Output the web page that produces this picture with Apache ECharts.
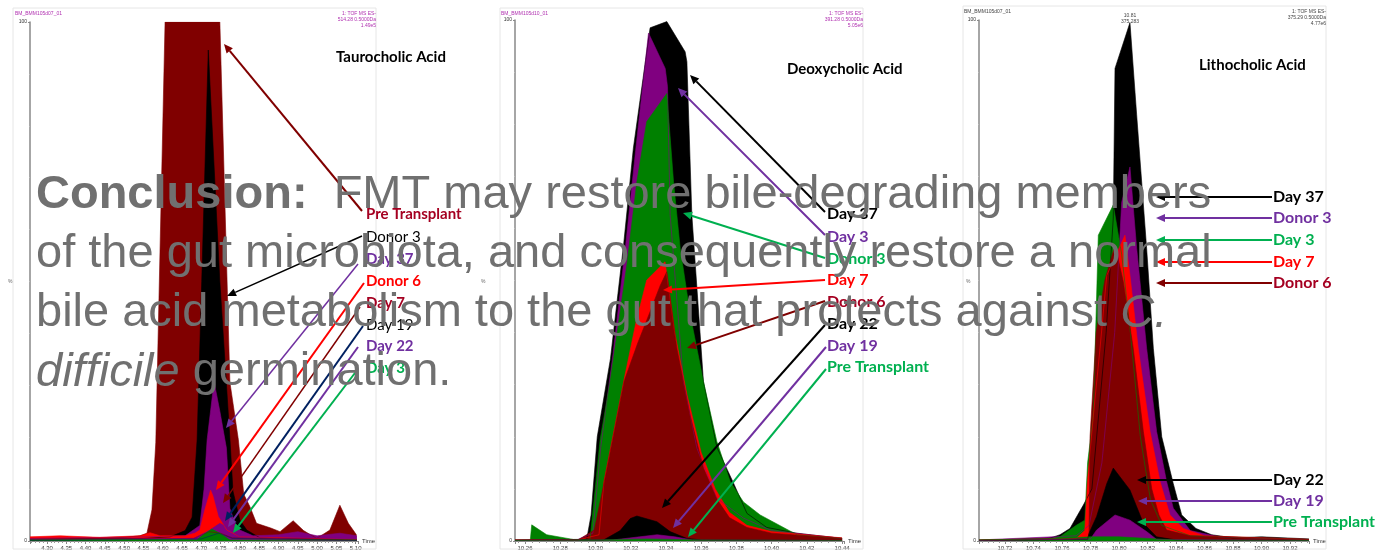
<!DOCTYPE html>
<html>
<head>
<meta charset="utf-8">
<script src="https://cdn.jsdelivr.net/npm/echarts@6/dist/echarts.min.js"></script>
<style>
  html, body { margin: 0; padding: 0; background: #fff; }
  #chart { width: 1383px; height: 551px; }
</style>
</head>
<body>
<div id="chart"></div>
<script>
// ---- Taurocholic acid (retention time, % intensity) ----
const taurPreTransplant = [[4.256,0.4],[4.400,0.5],[4.500,0.7],[4.541,1.0],[4.559,1.5],[4.572,6],[4.582,19],[4.606,100],[4.748,100],[4.774,30.6],[4.796,19.5],[4.810,9],[4.826,6.6],[4.843,3.4],[4.880,2.5],[4.904,1.8],[4.938,3.9],[4.965,2.0],[4.999,0.5],[5.033,2.1],[5.059,6.9],[5.081,3.4],[5.102,1.2]]
const taurDonor3 = [[4.256,0.3],[4.550,0.5],[4.619,0.8],[4.658,2],[4.676,4.6],[4.689,19.5],[4.701,50],[4.718,94.6],[4.748,50],[4.774,19.8],[4.782,9.6],[4.800,4],[4.818,2.1],[4.852,0.6],[5.103,0.2]]
const taurDay37 = [[4.256,0.5],[4.550,0.8],[4.658,1],[4.696,3],[4.707,10],[4.715,19.5],[4.733,30.7],[4.748,25],[4.765,17.9],[4.774,6.3],[4.787,3.5],[4.800,2.1],[4.834,1],[4.900,1.2],[4.950,1.8],[5.000,1.0],[5.059,1.5],[5.103,1]]
const taurDonor6 = [[4.256,0.8],[4.334,1.0],[4.437,0.7],[4.541,1.0],[4.567,1.6],[4.593,1.0],[4.658,1.0],[4.683,1.5],[4.696,2.1],[4.709,6],[4.724,9.8],[4.730,8.7],[4.744,4.7],[4.766,2.1],[4.800,0.8],[5.103,0.3]]
const taurDay7 = [[4.256,0.2],[4.680,0.5],[4.720,1.8],[4.750,1.5],[4.780,0.6],[5.103,0.2]]
const taurDay19 = [[4.256,0.1],[4.700,0.4],[4.745,1.5],[4.780,0.5],[5.103,0.1]]
const taurDay22 = [[4.256,0.3],[4.680,0.5],[4.720,2],[4.748,3.4],[4.766,2.7],[4.800,0.8],[4.900,0.5],[5.000,0.6],[5.103,0.4]]
const taurDay3 = [[4.256,0.2],[4.650,0.3],[4.688,0.2],[4.705,1.2],[4.727,2.3],[4.748,1.5],[4.774,0.2],[5.103,0.2]]

// ---- Deoxycholic acid ----
const deoxDay37 = [[10.2543,0.2],[10.2950,0.3],[10.2960,0.5],[10.2975,5],[10.3010,20],[10.3085,35],[10.3160,57],[10.3215,75.4],[10.3310,98.5],[10.3405,99.7],[10.3509,93.9],[10.3519,92],[10.3547,62.6],[10.3613,30.6],[10.3689,18],[10.3784,11.1],[10.3860,5.3],[10.3973,2.6],[10.4144,1.5],[10.4400,0.5]]
const deoxDay3 = [[10.2543,0.2],[10.2900,0.3],[10.2985,1.5],[10.3030,18],[10.3100,36],[10.3172,57],[10.3228,75],[10.3301,97.5],[10.3396,90.7],[10.3409,87.2],[10.3424,62.6],[10.3499,30.6],[10.3576,17.8],[10.3689,8.2],[10.3840,4.4],[10.4000,2],[10.4400,0.5]]
const deoxDonor3 = [[10.2543,0.2],[10.2630,0.2],[10.2638,3.1],[10.2723,1.2],[10.2874,0.3],[10.2969,0.3],[10.2998,9.8],[10.3026,19.4],[10.3083,30.6],[10.3178,53],[10.3235,69],[10.3291,80.5],[10.3405,85.9],[10.3443,69],[10.3481,56.2],[10.3538,43.4],[10.3613,30.6],[10.3689,19.1],[10.3765,11.4],[10.3840,7.5],[10.3935,5],[10.4144,1.2],[10.4400,0.5]]
const deoxDay7 = [[10.2543,0.2],[10.2900,0.2],[10.3020,1.2],[10.3048,11.4],[10.3160,30.6],[10.3230,42],[10.3291,50.1],[10.3395,53.6],[10.3450,40],[10.3520,28],[10.3600,17],[10.3680,10],[10.3760,5.5],[10.3860,3],[10.4000,1.8],[10.4400,0.6]]
const deoxDonor6 = [[10.2543,0.2],[10.2900,0.2],[10.2993,2.1],[10.3050,11.4],[10.3162,30.6],[10.3240,38],[10.3310,44],[10.3367,49],[10.3405,51.7],[10.3462,37],[10.3538,24],[10.3613,14],[10.3690,8],[10.3760,4.5],[10.3860,2.6],[10.4000,1.5],[10.4400,0.5]]
const deoxDay22 = [[10.2543,0.1],[10.2950,0.2],[10.3046,0.2],[10.3140,2],[10.3197,4.3],[10.3235,4.8],[10.3349,3.7],[10.3424,1.8],[10.3519,0.5],[10.3600,0.2],[10.4400,0.1]]
const deoxDay19 = [[10.2543,0.1],[10.3100,0.2],[10.3250,0.8],[10.3350,1.2],[10.3450,0.8],[10.3550,0.2],[10.4400,0.1]]
const deoxPreTransplant = [[10.2543,0.1],[10.3000,0.2],[10.3300,0.4],[10.3600,0.2],[10.4400,0.1]]

// ---- Lithocholic acid ----
const lithDay37 = [[10.7018,0.2],[10.7500,0.4],[10.7586,1.2],[10.7656,2.4],[10.7750,6.9],[10.7810,10],[10.7910,40],[10.7960,62],[10.7972,90.7],[10.8077,99.5],[10.8124,81.8],[10.8194,56.2],[10.8241,37],[10.8300,20],[10.8381,11],[10.8440,5],[10.8540,2.4],[10.8650,1.2],[10.8800,0.6],[10.9000,0.8],[10.9333,0.4]]
const lithDonor3 = [[10.7018,0.2],[10.7700,1],[10.7790,3],[10.7880,15],[10.7970,40],[10.8019,65],[10.8077,71.8],[10.8124,56.2],[10.8194,37],[10.8264,21],[10.8334,11.4],[10.8381,6.3],[10.8500,2],[10.8700,0.8],[10.9333,0.3]]
const lithDay3 = [[10.7018,0.2],[10.7500,0.3],[10.7586,0.8],[10.7700,3],[10.7760,4],[10.7780,15],[10.7820,24.2],[10.7855,58.7],[10.7960,64.5],[10.8019,55],[10.8080,40],[10.8150,20],[10.8220,8],[10.8300,3],[10.8500,1],[10.9333,0.3]]
const lithDay7 = [[10.7018,0.2],[10.7700,0.5],[10.7760,2],[10.7780,12],[10.7820,24],[10.7867,37],[10.7914,51],[10.8042,58.7],[10.8077,51],[10.8135,37],[10.8218,21],[10.8288,11.4],[10.8358,5],[10.8451,2.4],[10.8600,1],[10.9333,0.3]]
const lithDonor6 = [[10.7018,0.1],[10.7780,0.5],[10.7790,1.5],[10.7797,20],[10.7840,40],[10.7900,50],[10.7972,56.8],[10.8030,49.8],[10.8100,37],[10.8171,21],[10.8230,10],[10.8280,5],[10.8334,2.1],[10.8500,1],[10.9000,0.6],[10.9333,0.3]]
const lithDay22 = [[10.7018,0.1],[10.7780,0.3],[10.7790,1.5],[10.7843,4.7],[10.7914,11],[10.7960,14],[10.8077,9.8],[10.8171,3.4],[10.8264,0.8],[10.8400,0.2],[10.9333,0.1]]
const lithDay19 = [[10.7018,0.1],[10.7800,0.4],[10.7843,2.1],[10.7972,5],[10.8077,4],[10.8194,1.8],[10.8264,0.3],[10.9333,0.1]]
const lithPreTransplant = [[10.7018,0.2],[10.7600,0.5],[10.7800,0.8],[10.8000,0.8],[10.8200,0.5],[10.8400,0.2],[10.9333,0.1]]

// axis ranges and tick spacing
const xRanges = [[4.256, 5.106, 0.05], [10.2543, 10.4411, 0.02], [10.7018, 10.9333, 0.02]]
const titles = ['Taurocholic Acid', 'Deoxycholic Acid', 'Lithocholic Acid']

const DARKRED = '#800000', RED = '#ff0000', PURPLE = '#800080', GREEN = '#008000', BLACK = '#000000', NAVY = '#002060'
const LBL_DARKRED = '#a50021', LBL_PURPLE = '#7030a0', LBL_GREEN = '#00b050'

// back to front
const panels = [
  [[taurPreTransplant, DARKRED], [taurDonor3, BLACK], [taurDay37, PURPLE], [taurDonor6, RED], [taurDay7, DARKRED], [taurDay19, NAVY], [taurDay22, PURPLE], [taurDay3, GREEN]],
  [[deoxDay37, BLACK], [deoxDay3, PURPLE], [deoxDonor3, GREEN], [deoxDay7, RED], [deoxDonor6, DARKRED], [deoxDay22, BLACK], [deoxDay19, PURPLE], [deoxPreTransplant, GREEN]],
  [[lithDay37, BLACK], [lithDonor3, PURPLE], [lithDay3, GREEN], [lithDay7, RED], [lithDonor6, DARKRED], [lithDay22, BLACK], [lithDay19, PURPLE], [lithPreTransplant, GREEN]]
]

let chart = echarts.init(document.getElementById('chart'), null, { renderer: 'canvas' })

let grids = [
  { left: 30, top: 22, width: 328, height: 519 },
  { left: 515, top: 20, width: 329, height: 521 },
  { left: 979, top: 20, width: 330, height: 521 }
]

let xAxes = xRanges.map((r, i) => ({
  type: 'value', gridIndex: i, min: r[0], max: r[1], minInterval: r[2], maxInterval: r[2],
  name: 'Time', nameLocation: 'end', nameGap: 4,
  nameTextStyle: { fontSize: 6, color: '#333', fontFamily: 'Liberation Sans' },
  axisLine: { lineStyle: { color: '#888', width: 1 } },
  axisTick: { show: true, length: 3, lineStyle: { color: '#888' } },
  minorTick: { show: true, splitNumber: 5, length: 2, lineStyle: { color: '#999' } },
  splitLine: { show: false },
  axisLabel: { fontSize: 6, color: '#333', margin: 4, fontFamily: 'Liberation Sans', showMinLabel: false, showMaxLabel: false, formatter: v => v.toFixed(2) }
}))

let yAxes = grids.map((g, i) => ({
  type: 'value', gridIndex: i, min: 0, max: 100, interval: 100,
  axisLine: { show: true, lineStyle: { color: '#888', width: 1.5 } },
  axisTick: { show: true, length: 2, lineStyle: { color: '#888' } },
  minorTick: { show: true, splitNumber: 10, length: 1, lineStyle: { color: '#bbb' } },
  splitLine: { show: false },
  axisLabel: { fontSize: 5, color: '#333', margin: 3, fontFamily: 'Liberation Sans' }
}))

let seriesList = []
panels.forEach((list, i) => {
  for (let [data, color] of list) {
    seriesList.push({
      type: 'line', xAxisIndex: i, yAxisIndex: i, data: data,
      symbol: 'none', silent: true, animation: false,
      lineStyle: { color: color, width: 0.6 },
      itemStyle: { color: color },
      areaStyle: { color: color, opacity: 1 }
    })
  }
})

// ---- annotations (pixel layout) ----
function arrow(x1, y1, x2, y2, color, w, head) {
  let ang = Math.atan2(y2 - y1, x2 - x1)
  let hl = head, hw = head * 0.45
  let bx = x2 - hl * Math.cos(ang), by = y2 - hl * Math.sin(ang)
  let nx = -Math.sin(ang), ny = Math.cos(ang)
  return [
    { type: 'line', z: 50, shape: { x1: x1, y1: y1, x2: bx, y2: by }, style: { stroke: color, lineWidth: w } },
    { type: 'polygon', z: 50, shape: { points: [[x2, y2], [bx + nx * hw, by + ny * hw], [bx - nx * hw, by - ny * hw]] }, style: { fill: color } }
  ]
}

// text, colour, bold, label x, label y, arrow start, arrow tip, arrow colour, width, font size
const notes = [
  // Taurocholic
  ['Pre Transplant', LBL_DARKRED, true, 366, 214, [362, 211], [224, 44], DARKRED, 2, 15],
  ['Donor 3', BLACK, false, 366, 237, [362, 236], [227, 296], BLACK, 1.5, 15],
  ['Day 37', LBL_PURPLE, true, 366, 259, [358, 264], [226, 428], LBL_PURPLE, 1.5, 15],
  ['Donor 6', RED, true, 366, 281, [364, 283], [216, 490], RED, 2, 15],
  ['Day 7', LBL_DARKRED, true, 366, 303, [360, 307], [223, 503], DARKRED, 1.5, 15],
  ['Day 19', BLACK, false, 366, 325, [363, 326], [225, 521], NAVY, 2, 15],
  ['Day 22', LBL_PURPLE, true, 366, 346, [358, 347], [228, 527], LBL_PURPLE, 2, 15],
  ['Day 3', LBL_GREEN, true, 366, 368, [358, 369], [233, 533], LBL_GREEN, 2, 15],
  // Deoxycholic
  ['Day 37', BLACK, true, 827, 214, [825, 212], [690, 75], BLACK, 2, 16],
  ['Day 3', LBL_PURPLE, true, 827, 237, [825, 235], [678, 88], LBL_PURPLE, 2, 16],
  ['Donor 3', LBL_GREEN, true, 827, 259, [825, 258], [683, 213], LBL_GREEN, 2, 16],
  ['Day 7', RED, true, 827, 280, [825, 280], [663, 290], RED, 2, 16],
  ['Donor 6', LBL_DARKRED, true, 827, 302, [825, 301], [687, 348], DARKRED, 2, 16],
  ['Day 22', BLACK, true, 827, 324, [825, 325], [662, 508], BLACK, 2, 16],
  ['Day 19', LBL_PURPLE, true, 827, 346, [826, 347], [673, 528], LBL_PURPLE, 2, 16],
  ['Pre Transplant', LBL_GREEN, true, 827, 367, [826, 369], [688, 537], LBL_GREEN, 2, 16],
  // Lithocholic
  ['Day 37', BLACK, true, 1273, 197, [1272, 197], [1156, 197], BLACK, 2, 16],
  ['Donor 3', LBL_PURPLE, true, 1273, 218, [1272, 218], [1156, 218], LBL_PURPLE, 2, 16],
  ['Day 3', LBL_GREEN, true, 1273, 240, [1272, 240], [1156, 240], LBL_GREEN, 2, 16],
  ['Day 7', RED, true, 1273, 262, [1272, 262], [1156, 262], RED, 2, 16],
  ['Donor 6', LBL_DARKRED, true, 1273, 283, [1272, 283], [1156, 283], DARKRED, 2, 16],
  ['Day 22', BLACK, true, 1273, 480, [1272, 480], [1137, 480], BLACK, 2, 16],
  ['Day 19', LBL_PURPLE, true, 1273, 501, [1272, 501], [1138, 501], LBL_PURPLE, 2, 16],
  ['Pre Transplant', LBL_GREEN, true, 1273, 522, [1272, 522], [1137, 522], LBL_GREEN, 2, 16]
]

let graphics = []

// faint frames of the three instrument screenshots
const frames = [[13, 8, 363, 541], [500, 8, 363, 541], [963, 6, 363, 543]]
for (let f of frames) {
  graphics.push({ type: 'rect', z: 1, shape: { x: f[0], y: f[1], width: f[2], height: f[3] }, style: { fill: 'none', stroke: '#e6e6e6', lineWidth: 1 } })
}

// instrument header texts
const headers = [
  ['BM_BMM105d07_01', 15, 11, '1: TOF MS ES-\n514.28 0.5000Da\n1.49e5', 376, '#b030b0'],
  ['BM_BMM105d10_01', 501, 11, '1: TOF MS ES-\n391.28 0.5000Da\n5.05e6', 863, '#b030b0'],
  ['BM_BMM105d07_01', 964, 9, '1: TOF MS ES-\n375.29 0.5000Da\n4.77e6', 1326, '#444']
]
for (let h of headers) {
  graphics.push({ type: 'text', z: 5, x: h[1], y: h[2], style: { text: h[0], fill: h[5], font: '5px "Liberation Sans"' } })
  graphics.push({ type: 'text', z: 5, x: h[4], y: h[2], style: { text: h[3], fill: h[5], font: '5px "Liberation Sans"', align: 'right', lineHeight: 6 } })
}
graphics.push({ type: 'text', z: 5, x: 1130, y: 13, style: { text: '10.81\n375.283', fill: '#444', font: '5px "Liberation Sans"', align: 'center', lineHeight: 6 } })
for (let px of [8, 481, 966]) {
  graphics.push({ type: 'text', z: 5, x: px, y: 279, style: { text: '%', fill: '#666', font: '5px "Liberation Sans"' } })
}

// compound titles
const titlePos = [[336, 57], [787, 69], [1199, 65]]
titles.forEach((t, i) => {
  graphics.push({ type: 'text', z: 60, x: titlePos[i][0], y: titlePos[i][1], style: { text: t, fill: '#000', font: 'bold 15px Lato', verticalAlign: 'middle' } })
})

for (let n of notes) {
  graphics.push(...arrow(n[5][0], n[5][1], n[6][0], n[6][1], n[7], n[8], 9))
  graphics.push({ type: 'text', z: 60, x: n[3], y: n[4], style: { text: n[0], fill: n[1], font: (n[2] ? 'bold ' : '') + n[9] + 'px Lato', verticalAlign: 'middle' } })
}

// conclusion overlay
graphics.push({
  type: 'text', z: 100, x: 36, y: 166,
  style: {
    text: '{b|Conclusion:}  FMT may restore bile-degrading members\nof the gut microbiota, and consequently restore a normal\nbile acid metabolism to the gut that protects against {i|C.}\n{i|difficile} germination.',
    fill: '#707070', fontSize: 47, fontFamily: 'Liberation Sans', lineHeight: 59,
    rich: {
      b: { fontWeight: 'bold', fontSize: 47, fontFamily: 'Liberation Sans', fill: '#707070', lineHeight: 59 },
      i: { fontStyle: 'italic', fontSize: 47, fontFamily: 'Liberation Sans', fill: '#707070', lineHeight: 59 }
    }
  }
})

let option = {
  backgroundColor: '#fff',
  animation: false,
  grid: grids,
  xAxis: xAxes,
  yAxis: yAxes,
  series: seriesList,
  graphic: graphics
}

chart.setOption(option)
</script>
</body>
</html>
